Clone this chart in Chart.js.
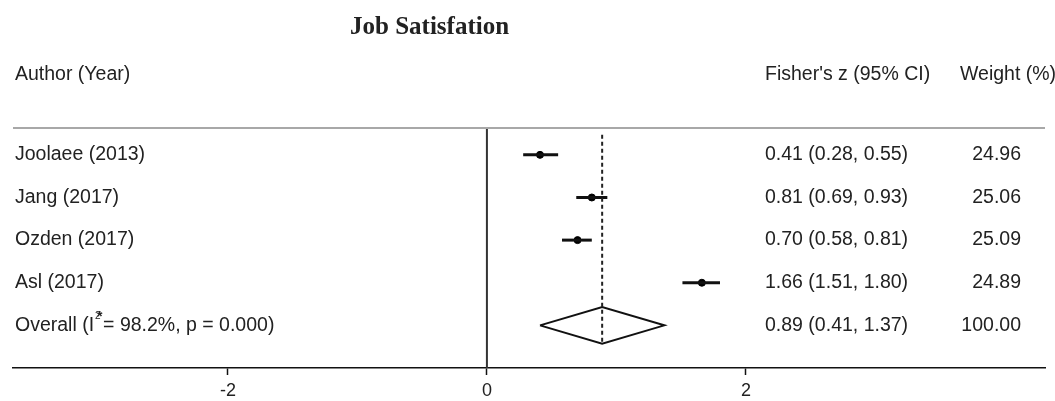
<!DOCTYPE html>
<html>
<head>
<meta charset="utf-8">
<script src="https://cdn.jsdelivr.net/npm/chart.js@4"></script>
<style>
  html, body { margin: 0; padding: 0; background: #fff; }
  #wrap { width: 1055px; height: 401px; }
</style>
</head>
<body>
<div id="wrap"><canvas id="forest"></canvas></div>
<script>
// Study data (Fisher's z with 95% CI)
const authors = ["Joolaee (2013)", "Jang (2017)", "Ozden (2017)", "Asl (2017)"];
const estimates = [0.41, 0.81, 0.70, 1.66];
const lowerCI = [0.28, 0.69, 0.58, 1.51];
const upperCI = [0.55, 0.93, 0.81, 1.80];
const weights = ["24.96", "25.06", "25.09", "24.89"];
const overallEst = 0.89;
const overallCI = [0.41, 1.37];
const overallWeight = "100.00";
const xTicks = [-2, 0, 2];

const TEXT = "#222";
const SANS = "'Liberation Sans', Arial, sans-serif";
const overallRow = authors.length + 1;

// CI whiskers, one dataset per study
const ciSets = authors.map((a, i) => ({
  type: "line",
  data: [{ x: lowerCI[i], y: i + 1 }, { x: upperCI[i], y: i + 1 }],
  borderColor: "#111", borderWidth: 3, pointRadius: 0
}));

const fmt = v => v.toFixed(2);

// Text columns, title and header rule
const textPlugin = {
  id: "forestText",
  afterDraw(chart) {
    const { ctx, chartArea: ca, scales: { y } } = chart;
    ctx.save();
    // header rule
    ctx.strokeStyle = "#a8a8a8";
    ctx.lineWidth = 2;
    ctx.beginPath();
    ctx.moveTo(ca.left, ca.top);
    ctx.lineTo(ca.right, ca.top);
    ctx.stroke();

    ctx.fillStyle = TEXT;
    ctx.textBaseline = "middle";
    ctx.font = "bold 25px 'Liberation Serif', 'Times New Roman', serif";
    ctx.textAlign = "left";
    ctx.fillText("Job Satisfation", 350, 28);

    ctx.font = "19.5px " + SANS;
    ctx.fillText("Author (Year)", 15, 75);
    ctx.fillText("Fisher's z (95% CI)", 765, 75);
    ctx.fillText("Weight (%)", 960, 75);

    authors.forEach((a, i) => {
      const py = y.getPixelForValue(i + 1);
      ctx.textAlign = "left";
      ctx.fillText(a, 15, py);
      ctx.fillText(`${fmt(estimates[i])} (${fmt(lowerCI[i])}, ${fmt(upperCI[i])})`, 765, py);
      ctx.textAlign = "right";
      ctx.fillText(weights[i], 1021, py);
    });

    // overall row with I² label
    const py = y.getPixelForValue(overallRow);
    ctx.textAlign = "left";
    let px = 15;
    const part1 = "Overall (I";
    ctx.fillText(part1, px, py);
    px += ctx.measureText(part1).width;
    ctx.font = "10px " + SANS;
    ctx.fillText("2", px + 1, py - 9);
    ctx.font = "bold 14px " + SANS;
    ctx.fillText("*", px + 3, py - 8);
    ctx.font = "19.5px " + SANS;
    ctx.fillText("= 98.2%, p = 0.000)", px + 9, py);
    ctx.fillText(`${fmt(overallEst)} (${fmt(overallCI[0])}, ${fmt(overallCI[1])})`, 765, py);
    ctx.textAlign = "right";
    ctx.fillText(overallWeight, 1021, py);
    ctx.restore();
  }
};

const dh = 0.43; // diamond half-height in row units

new Chart(document.getElementById("forest"), {
  type: "scatter",
  data: {
    datasets: [
      { // line of no effect
        type: "line",
        data: [{ x: 0, y: 0.37 }, { x: 0, y: 6.0 }],
        borderColor: "#333", borderWidth: 2, pointRadius: 0
      },
      { // overall estimate reference
        type: "line",
        data: [{ x: overallEst, y: 0.53 }, { x: overallEst, y: overallRow + dh }],
        borderColor: "#222", borderWidth: 2, borderDash: [4, 3], pointRadius: 0
      },
      ...ciSets,
      { // point estimates
        data: estimates.map((e, i) => ({ x: e, y: i + 1 })),
        backgroundColor: "#000", borderColor: "#000", pointRadius: 3.5
      },
      { // pooled diamond
        type: "line",
        data: [
          { x: overallCI[0], y: overallRow },
          { x: overallEst, y: overallRow - dh },
          { x: overallCI[1], y: overallRow },
          { x: overallEst, y: overallRow + dh },
          { x: overallCI[0], y: overallRow }
        ],
        borderColor: "#111", borderWidth: 2, pointRadius: 0, fill: false, tension: 0
      }
    ]
  },
  options: {
    responsive: true,
    maintainAspectRatio: false,
    animation: false,
    layout: { padding: { top: 128, left: 13, right: 10, bottom: 0 } },
    plugins: { legend: { display: false }, tooltip: { enabled: false } },
    scales: {
      x: {
        type: "linear", min: -3.66, max: 4.31,
        afterBuildTicks: ax => { ax.ticks = xTicks.map(v => ({ value: v })); },
        afterFit: ax => { ax.height = 33; },
        grid: { drawOnChartArea: false, drawTicks: true, tickLength: 7, tickColor: "#111", tickWidth: 1.5 },
        border: { display: true, color: "#111", width: 1.5 },
        ticks: { color: TEXT, font: { family: SANS, size: 18 }, padding: 5 }
      },
      y: { display: false, min: 0.37, max: 6.0, reverse: true }
    }
  },
  plugins: [textPlugin]
});
</script>
</body>
</html>
